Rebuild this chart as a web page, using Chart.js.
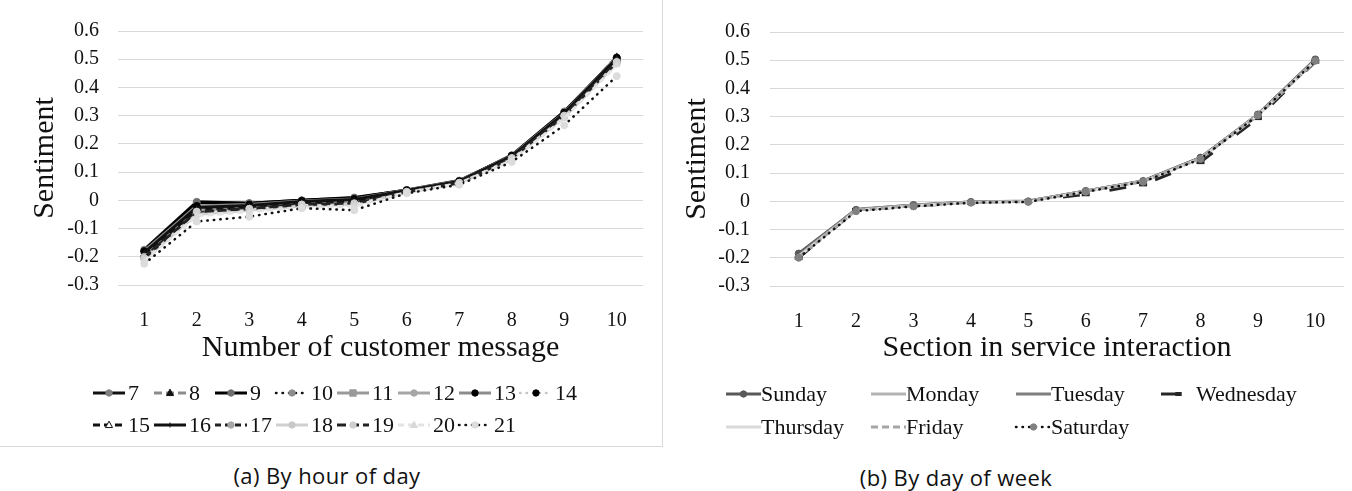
<!DOCTYPE html>
<html>
<head>
<meta charset="utf-8">
<title>Sentiment over the course of service interactions</title>
<script src="https://cdn.jsdelivr.net/npm/chart.js"></script>
<style>
  html, body { margin: 0; padding: 0; background: #fff; }
  body { position: relative; width: 1352px; height: 491px; overflow: hidden; }
  .panel { position: absolute; top: 0; }
  #panelA { left: 0; width: 662px; height: 446px; border-right: 1px solid #d9d9d9; border-bottom: 1px solid #d9d9d9; }
  #panelB { left: 672px; width: 680px; height: 446px; }
  canvas { display: block; }
  .caption { position: absolute; font-family: "Open Sans", "Noto Sans", sans-serif; font-size: 22px;
             color: #111; text-align: center; width: 300px; line-height: 30px; letter-spacing: 0.4px; }
</style>
</head>
<body>
<div class="panel" id="panelA"><canvas id="chartA" width="662" height="446"></canvas></div>
<div class="panel" id="panelB"><canvas id="chartB" width="680" height="446"></canvas></div>
<div class="caption" style="left:177px; top:460px;">(a) By hour of day</div>
<div class="caption" style="left:806px; top:462px;">(b) By day of week</div>

<script>
// ---- categories and tick labels ----
const positions = ['1', '2', '3', '4', '5', '6', '7', '8', '9', '10'];
const yTickValues = [-0.3, -0.2, -0.1, 0, 0.1, 0.2, 0.3, 0.4, 0.5, 0.6];

// ---- (a) mean sentiment by hour of day ----
const hourLabels = ['7', '8', '9', '10', '11', '12', '13', '14', '15', '16', '17', '18', '19', '20', '21'];
const hour07 = [-0.175, -0.005, -0.010,  0.000,  0.010, 0.036, 0.068, 0.160, 0.315, 0.505];
const hour08 = [-0.190, -0.030, -0.020, -0.005,  0.000, 0.035, 0.065, 0.156, 0.308, 0.510];
const hour09 = [-0.180, -0.008, -0.010,  0.000,  0.008, 0.037, 0.070, 0.158, 0.312, 0.506];
const hour10 = [-0.205, -0.045, -0.030, -0.012, -0.008, 0.030, 0.062, 0.150, 0.300, 0.490];
const hour11 = [-0.195, -0.035, -0.025, -0.008, -0.005, 0.033, 0.065, 0.152, 0.305, 0.498];
const hour12 = [-0.185, -0.030, -0.020, -0.005,  0.002, 0.036, 0.068, 0.155, 0.308, 0.502];
const hour13 = [-0.180, -0.020, -0.015, -0.002,  0.005, 0.036, 0.068, 0.158, 0.310, 0.505];
const hour14 = [-0.200, -0.040, -0.025, -0.010, -0.005, 0.032, 0.065, 0.152, 0.302, 0.495];
const hour15 = [-0.190, -0.035, -0.022, -0.008, -0.002, 0.034, 0.066, 0.155, 0.305, 0.500];
const hour16 = [-0.185, -0.025, -0.018, -0.004,  0.003, 0.035, 0.067, 0.156, 0.308, 0.503];
const hour17 = [-0.200, -0.045, -0.030, -0.015, -0.010, 0.030, 0.062, 0.148, 0.298, 0.490];
const hour18 = [-0.210, -0.050, -0.035, -0.020, -0.015, 0.028, 0.060, 0.145, 0.295, 0.485];
const hour19 = [-0.205, -0.040, -0.030, -0.015, -0.012, 0.030, 0.062, 0.150, 0.300, 0.490];
const hour20 = [-0.215, -0.055, -0.040, -0.025, -0.020, 0.028, 0.060, 0.142, 0.290, 0.480];
const hour21 = [-0.225, -0.075, -0.058, -0.028, -0.035, 0.025, 0.055, 0.136, 0.266, 0.440];
const hourValues = [hour07, hour08, hour09, hour10, hour11, hour12, hour13, hour14,
                    hour15, hour16, hour17, hour18, hour19, hour20, hour21];

// ---- (b) mean sentiment by day of week ----
const dayLabels = ['Sunday', 'Monday', 'Tuesday', 'Wednesday', 'Thursday', 'Friday', 'Saturday'];
const sunday    = [-0.185, -0.030, -0.013, -0.002,  0.000, 0.037, 0.072, 0.155, 0.308, 0.503];
const monday    = [-0.195, -0.030, -0.015, -0.003,  0.000, 0.036, 0.071, 0.153, 0.306, 0.500];
const tuesday   = [-0.192, -0.028, -0.014, -0.002,  0.001, 0.037, 0.072, 0.155, 0.307, 0.500];
const wednesday = [-0.200, -0.031, -0.016, -0.005,  0.000, 0.025, 0.060, 0.139, 0.295, 0.495];
const thursday  = [-0.195, -0.032, -0.016, -0.004, -0.001, 0.035, 0.070, 0.152, 0.305, 0.498];
const friday    = [-0.198, -0.031, -0.015, -0.003,  0.000, 0.036, 0.070, 0.152, 0.304, 0.497];
const saturday  = [-0.200, -0.035, -0.018, -0.005, -0.002, 0.034, 0.069, 0.150, 0.305, 0.498];
const dayValues = [sunday, monday, tuesday, wednesday, thursday, friday, saturday];

// ---- line and marker styles ----
const DOT = [0.5, 6];
const hourStyles = [
  { c: '#111111', w: 3,   dash: [],     pt: 'circle',   bg: '#808080', bc: '#808080' },
  { c: '#8c8c8c', w: 3,   dash: [8, 4], pt: 'triangle', bg: '#111111', bc: '#111111' },
  { c: '#000000', w: 3,   dash: [],     pt: 'circle',   bg: '#6e6e6e', bc: '#6e6e6e' },
  { c: '#111111', w: 2.5, dash: DOT,    pt: 'circle',   bg: '#8c8c8c', bc: '#8c8c8c', round: true },
  { c: '#9a9a9a', w: 3,   dash: [],     pt: 'rect',     bg: '#9a9a9a', bc: '#9a9a9a' },
  { c: '#a6a6a6', w: 3,   dash: [],     pt: 'circle',   bg: '#a6a6a6', bc: '#a6a6a6' },
  { c: '#8c8c8c', w: 3,   dash: [],     pt: 'circle',   bg: '#000000', bc: '#000000' },
  { c: '#c4c4c4', w: 2.5, dash: DOT,    pt: 'circle',   bg: '#000000', bc: '#000000', round: true },
  { c: '#111111', w: 3,   dash: [7, 4], pt: 'triangle', bg: '#ffffff', bc: '#111111' },
  { c: '#111111', w: 3,   dash: [],     pt: 'cross',    bg: '#111111', bc: '#111111', r: 2.5 },
  { c: '#222222', w: 3,   dash: [6, 4], pt: 'circle',   bg: '#a6a6a6', bc: '#a6a6a6' },
  { c: '#d0d0d0', w: 3,   dash: [],     pt: 'circle',   bg: '#c8c8c8', bc: '#c8c8c8' },
  { c: '#222222', w: 3,   dash: [9, 4], pt: 'circle',   bg: '#cfcfcf', bc: '#cfcfcf' },
  { c: '#e3e3e3', w: 3,   dash: [6, 4], pt: 'triangle', bg: '#d9d9d9', bc: '#d9d9d9' },
  { c: '#111111', w: 2.5, dash: DOT,    pt: 'circle',   bg: '#dcdcdc', bc: '#dcdcdc', round: true }
];
const dayStyles = [
  { c: '#595959', w: 3,   dash: [],       pt: 'circle', bg: '#595959', bc: '#595959' },
  { c: '#b3b3b3', w: 3,   dash: [],       pt: false },
  { c: '#7f7f7f', w: 3,   dash: [],       pt: false },
  { c: '#262626', w: 3,   dash: [17, 30], pt: 'line',   bg: '#262626', bc: '#262626', bw: 4, r: 4 },
  { c: '#dadada', w: 3,   dash: [],       pt: false },
  { c: '#a6a6a6', w: 3,   dash: [7, 4],   pt: false },
  { c: '#111111', w: 2.5, dash: DOT,      pt: 'circle', bg: '#808080', bc: '#808080', round: true }
];

function buildDatasets(labels, values, styles) {
  return labels.map((label, i) => {
    const s = styles[i];
    return {
      label: label,
      data: values[i],
      borderColor: s.c,
      borderWidth: s.w,
      borderDash: s.dash,
      borderCapStyle: s.round ? 'round' : 'butt',
      borderJoinStyle: 'round',
      pointStyle: s.pt || 'circle',
      pointRadius: s.pt ? (s.r || 3.5) : 0,
      pointBackgroundColor: s.bg || s.c,
      pointBorderColor: s.bc || s.c,
      pointBorderWidth: s.bw || 1,
      tension: 0,
      fill: false,
      order: -i
    };
  });
}

// marker used in the legend samples
function drawMarker(ctx, style, x, y, r, fill, stroke, bw) {
  ctx.save();
  ctx.setLineDash([]);
  ctx.fillStyle = fill;
  ctx.strokeStyle = stroke;
  ctx.lineWidth = bw;
  ctx.beginPath();
  if (style === 'circle') {
    ctx.arc(x, y, r, 0, Math.PI * 2);
    ctx.fill(); ctx.stroke();
  } else if (style === 'triangle') {
    ctx.moveTo(x, y - r * 1.2);
    ctx.lineTo(x + r * 1.1, y + r * 0.8);
    ctx.lineTo(x - r * 1.1, y + r * 0.8);
    ctx.closePath();
    ctx.fill(); ctx.stroke();
  } else if (style === 'rect') {
    ctx.rect(x - r, y - r, 2 * r, 2 * r);
    ctx.fill(); ctx.stroke();
  } else if (style === 'line') {
    ctx.moveTo(x - r, y); ctx.lineTo(x + r, y);
    ctx.stroke();
  } else if (style === 'cross') {
    ctx.moveTo(x, y - r); ctx.lineTo(x, y + r);
    ctx.moveTo(x - r, y); ctx.lineTo(x + r, y);
    ctx.stroke();
  }
  ctx.restore();
}

// legend laid out in fixed columns, each sample = line + marker + label
const gridLegend = {
  id: 'gridLegend',
  afterDraw(chart, args, opts) {
    const ctx = chart.ctx;
    chart.data.datasets.forEach((ds, i) => {
      const col = i % opts.cols;
      const row = Math.floor(i / opts.cols);
      const x = opts.x + col * opts.pitch;
      const y = opts.rows[row];
      ctx.save();
      ctx.strokeStyle = ds.borderColor;
      ctx.lineWidth = ds.borderWidth;
      ctx.lineCap = ds.borderCapStyle;
      ctx.setLineDash(ds.borderDash || []);
      ctx.beginPath();
      ctx.moveTo(x, y);
      ctx.lineTo(x + opts.symW, y);
      ctx.stroke();
      if (ds.pointRadius > 0) {
        drawMarker(ctx, ds.pointStyle, x + opts.symW / 2, y,
                   Math.min(ds.pointRadius, 3.2), ds.pointBackgroundColor,
                   ds.pointBorderColor, ds.pointBorderWidth);
      }
      ctx.fillStyle = '#111';
      ctx.font = opts.font;
      ctx.textAlign = 'left';
      ctx.textBaseline = 'middle';
      ctx.fillText(ds.label, x + opts.textOff, y + 1);
      ctx.restore();
    });
  }
};

const SERIF = '"Liberation Serif", "Times New Roman", serif';

function makeOptions(cfg) {
  return {
    responsive: false,
    animation: false,
    devicePixelRatio: 1,
    layout: { padding: { top: cfg.top, right: cfg.right, bottom: 80, left: 0 } },
    plugins: {
      legend: { display: false },
      tooltip: { enabled: false },
      gridLegend: cfg.legend
    },
    scales: {
      x: {
        type: 'category',
        offset: true,
        grid: { display: false },
        border: { display: false },
        ticks: { color: '#111', padding: cfg.xPad, font: { family: SERIF, size: 20 }, maxRotation: 0 },
        title: { display: true, text: cfg.xTitle, color: '#111',
                 font: { family: SERIF, size: 30 }, padding: { top: 0, bottom: 0 } },
        afterFit(scale) { scale.height = cfg.xHeight; }
      },
      y: {
        min: -0.3,
        max: 0.6,
        grid: { color: '#d9d9d9', lineWidth: 1, drawTicks: false },
        border: { display: false },
        afterBuildTicks(scale) { scale.ticks = yTickValues.map(v => ({ value: v })); },
        ticks: {
          color: '#111', padding: cfg.yPad, font: { family: SERIF, size: 20 },
          callback: v => (Math.abs(v) < 1e-9 ? '0' : (+v).toFixed(1))
        },
        title: { display: true, text: 'Sentiment', color: '#111',
                 font: { family: SERIF, size: 30 }, padding: { top: cfg.yTitlePad, bottom: 0 } },
        afterFit(scale) { scale.width = cfg.yWidth; }
      }
    }
  };
}

new Chart(document.getElementById('chartA'), {
  type: 'line',
  data: { labels: positions, datasets: buildDatasets(hourLabels, hourValues, hourStyles) },
  options: makeOptions({
    top: 26, right: 19, xHeight: 81, xPad: 16, yPad: 19, yWidth: 118, yTitlePad: 27,
    xTitle: 'Number of customer message',
    legend: { cols: 8, x: 93, pitch: 61, rows: [393, 425], symW: 32, textOff: 35,
              font: '22px ' + SERIF }
  }),
  plugins: [gridLegend]
});

new Chart(document.getElementById('chartB'), {
  type: 'line',
  data: { labels: positions, datasets: buildDatasets(dayLabels, dayValues, dayStyles) },
  options: makeOptions({
    top: 27, right: 5, xHeight: 80, xPad: 16, yPad: 20, yWidth: 98, yTitlePad: 7,
    xTitle: 'Section in service interaction',
    legend: { cols: 4, x: 54, pitch: 145, rows: [394, 427], symW: 35, textOff: 35,
              font: '22px ' + SERIF }
  }),
  plugins: [gridLegend]
});
</script>
</body>
</html>
